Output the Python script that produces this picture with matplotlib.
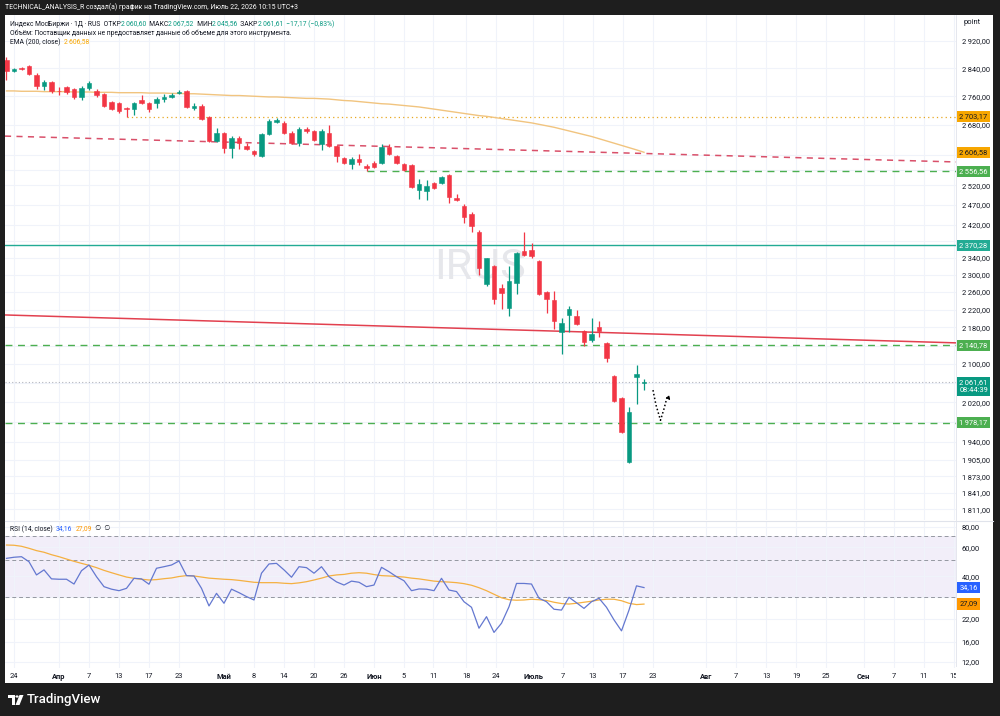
import matplotlib
matplotlib.use("Agg")
import matplotlib.pyplot as plt
import matplotlib.transforms as mtransforms
from matplotlib.patches import Rectangle, Circle, Polygon
from matplotlib.ticker import NullLocator, NullFormatter
import numpy as np

plt.rcParams['font.family'] = ['Roboto', 'DejaVu Sans']

W, H = 1000, 716

# daily candles, first one = 23 Mar, last one = 22 Jul
opens = [2864, 2832, 2840, 2846, 2820, 2789, 2800, 2775, 2786, 2780,
         2758, 2783, 2775, 2766, 2744, 2741, 2727, 2724, 2749, 2741,
         2741, 2752, 2758, 2769, 2775, 2727, 2733, 2702, 2637, 2658,
         2618, 2645, 2623, 2610, 2597, 2656, 2688, 2686, 2658, 2631,
         2669, 2664, 2629, 2658, 2623, 2591, 2576, 2589, 2570, 2578,
         2578, 2621, 2597, 2576, 2573, 2508, 2506, 2526, 2526, 2547,
         2488, 2468, 2448, 2402, 2279, 2322, 2269, 2223, 2281, 2358,
         2360, 2334, 2260, 2242, 2170, 2208, 2205, 2172, 2152, 2181,
         2145, 2074, 2028, 1900, 2073, 2060.60]
highs = [2873, 2841, 2843, 2849, 2826, 2806, 2803, 2786, 2789, 2783,
         2789, 2803, 2780, 2769, 2747, 2744, 2730, 2744, 2764, 2744,
         2758, 2766, 2769, 2778, 2778, 2741, 2738, 2705, 2672, 2661,
         2650, 2650, 2631, 2613, 2658, 2697, 2699, 2691, 2664, 2675,
         2675, 2667, 2669, 2680, 2626, 2594, 2594, 2602, 2576, 2584,
         2629, 2629, 2599, 2578, 2576, 2537, 2534, 2529, 2544, 2550,
         2498, 2473, 2453, 2407, 2341, 2324, 2279, 2322, 2355, 2402,
         2375, 2336, 2263, 2263, 2201, 2228, 2219, 2174, 2201, 2194,
         2148, 2076, 2030, 2010, 2098, 2067.52]
lows = [2806, 2829, 2834, 2820, 2780, 2778, 2769, 2764, 2766, 2752,
        2749, 2778, 2758, 2730, 2722, 2713, 2702, 2708, 2738, 2716,
        2727, 2744, 2755, 2766, 2727, 2722, 2694, 2634, 2634, 2605,
        2591, 2616, 2613, 2597, 2594, 2653, 2686, 2656, 2629, 2623,
        2658, 2637, 2613, 2621, 2581, 2576, 2563, 2573, 2557, 2565,
        2576, 2599, 2576, 2557, 2514, 2485, 2483, 2511, 2524, 2475,
        2480, 2426, 2402, 2300, 2274, 2232, 2221, 2205, 2256, 2344,
        2339, 2254, 2212, 2176, 2121, 2170, 2185, 2139, 2148, 2159,
        2104, 2020, 1957, 1898, 2016, 2045.56]
closes = [2832, 2838, 2837, 2823, 2789, 2800, 2775, 2774, 2772, 2758,
          2783, 2798, 2764, 2733, 2724, 2719, 2724, 2741, 2741, 2724,
          2752, 2758, 2764, 2772, 2730, 2733, 2697, 2637, 2658, 2618,
          2645, 2631, 2615, 2602, 2656, 2691, 2694, 2658, 2631, 2669,
          2664, 2640, 2664, 2623, 2597, 2578, 2589, 2581, 2565, 2568,
          2621, 2602, 2578, 2560, 2516, 2524, 2519, 2514, 2542, 2490,
          2483, 2440, 2418, 2317, 2339, 2244, 2258, 2285, 2351, 2348,
          2344, 2256, 2244, 2194, 2190, 2221, 2187, 2148, 2165, 2172,
          2113, 2022, 1959, 2000, 2078.78, 2061.61]
ema200 = [2775, 2775, 2774, 2774, 2774, 2773, 2773, 2773, 2773, 2772,
          2772, 2772, 2771, 2771, 2771, 2770, 2770, 2770, 2770, 2769,
          2769, 2769, 2768, 2768, 2767, 2767, 2766, 2765, 2764, 2763,
          2762, 2762, 2761, 2760, 2759, 2758, 2758, 2757, 2756, 2755,
          2754, 2754, 2753, 2752, 2750, 2748, 2747, 2745, 2743, 2741,
          2739, 2738, 2736, 2734, 2732, 2730, 2727, 2724, 2721, 2718,
          2715, 2712, 2709, 2706, 2704, 2701, 2698, 2695, 2692, 2689,
          2686, 2682, 2678, 2674, 2669, 2664, 2659, 2654, 2649, 2643,
          2637, 2631, 2625, 2619, 2613, 2606.58]
rsi = [51.5, 52.3, 52.7, 49.1, 40.8, 43.8, 38.6, 38.4, 38.4, 35.9,
       43.3, 46.9, 39.8, 34.6, 33.4, 32.7, 33.8, 38.9, 38.6, 35.8,
       44.8, 45.8, 46.9, 49.6, 40.4, 40.2, 33.8, 26.4, 31.5, 27.4,
       33.4, 31.8, 30.1, 28.7, 41.8, 47.6, 48.0, 43.8, 39.5, 45.8,
       45.2, 41.8, 45.8, 39.8, 37.0, 35.4, 37.4, 36.8, 34.6, 35.4,
       45.4, 42.7, 39.8, 37.6, 32.7, 33.5, 33.4, 32.7, 38.9, 33.0,
       32.3, 28.0, 25.9, 19.3, 22.7, 18.2, 20.7, 26.1, 36.2, 36.2,
       35.9, 29.4, 28.0, 25.2, 24.9, 29.8, 27.6, 25.5, 28.0, 29.4,
       25.9, 21.7, 18.6, 24.9, 35.0, 34.16]
rsi_ma = [62.1, 61.9, 61.0, 59.3, 57.4, 56.1, 54.2, 52.7, 51.0, 49.4,
          48.0, 46.7, 45.2, 43.5, 42.1, 40.8, 39.6, 38.9, 38.4, 38.0,
          38.2, 38.7, 39.1, 39.9, 40.4, 40.2, 39.6, 39.0, 38.7, 38.4,
          38.2, 37.8, 37.3, 36.8, 36.6, 36.6, 36.6, 36.3, 36.1, 36.5,
          37.1, 38.0, 39.0, 40.2, 40.8, 41.1, 41.8, 42.1, 41.8, 41.0,
          40.4, 40.2, 39.9, 39.6, 39.0, 38.6, 38.0, 37.4, 37.1, 36.9,
          36.6, 36.1, 35.3, 34.1, 32.7, 31.1, 29.6, 28.8, 28.6, 28.7,
          29.0, 28.8, 28.5, 27.8, 27.3, 27.1, 27.4, 27.8, 28.2, 28.7,
          29.0, 29.0, 28.4, 27.4, 26.9, 27.09]

# bar index 0 = 24 Mar
x_tick_pos = [0, 6, 10, 14, 18, 22, 28, 32, 36, 40, 44, 48, 52, 55.9, 60.3, 64.3,
              69.2, 73.2, 77.2, 81.2, 85.2, 92.3, 96.3, 100.3, 104.3, 108.3,
              113.3, 117.3, 121.3, 125.3]
x_tick_labels = ['24', 'Апр', '7', '13', '17', '23', 'Май', '8', '14', '20', '26',
                 'Июн', '5', '11', '18', '24', 'Июль', '7', '13', '17', '23',
                 'Авг', '7', '13', '19', '25', 'Сен', '7', '11', '15']
month_labels = ['Апр', 'Май', 'Июн', 'Июль', 'Авг', 'Сен']

price_ticks = [2920, 2840, 2760, 2680, 2600, 2560, 2520, 2470, 2420, 2380, 2340,
               2300, 2260, 2220, 2180, 2140, 2100, 2060, 2020, 1980, 1940, 1905,
               1873, 1841, 1811]
hidden_price_ticks = [2600, 2560, 2140, 2060, 1980]
rsi_ticks = [80, 60, 40, 30, 22, 16, 12]
hidden_rsi_ticks = [30]

# drawn levels / trend lines
level_ema_low = 2703.17
level_green_1 = 2556.56
level_teal = 2370.28
level_green_2 = 2140.78
level_green_3 = 1978.17
last_price = 2061.61
red_dash_x = [-1.2, 125.6]
red_dash_y = [2650, 2581]
red_line_x = [-1.2, 125.6]
red_line_y = [2208, 2146]
arrow_x = [85.2, 85.6, 86.2, 86.7, 87.1]
arrow_y = [2045, 2014, 1983, 2008, 2032]

UP, DOWN = '#089981', '#f23645'
GREEN = '#4caf50'
TEAL = '#22ab94'
ORANGE = '#f7a600'
TXT = '#131722'
GRID = '#f0f3fa'
FS = 5.4
LFS = 4.9


def fmt(v):
    return f"{v:,.2f}".replace(',', '\u2009').replace('.', ',')


fig = plt.figure(figsize=(W / 100, H / 100), dpi=100, facecolor='#1e1e1e')
fig.patches.append(Rectangle((5 / W, 1 - 683 / H), 988 / W, 668 / H, transform=fig.transFigure,
                             facecolor='white', edgecolor='none', zorder=-5))

ax = fig.add_axes([5 / W, 1 - 520 / H, 951 / W, 505 / H])
ax2 = fig.add_axes([5 / W, 1 - 668 / H, 951 / W, 146 / H])

idx = np.arange(len(closes)) - 1
o = np.array(opens, float)
c = np.array(closes, float)
cols = [UP if cc >= oo else DOWN for oo, cc in zip(o, c)]

for a in (ax, ax2):
    a.set_yscale('log')
    a.set_xlim(-1.2, 125.6)
    a.yaxis.tick_right()
    a.yaxis.set_minor_locator(NullLocator())
    a.yaxis.set_minor_formatter(NullFormatter())
    a.set_xticks(x_tick_pos)
    a.grid(True, color=GRID, lw=0.8, zorder=0)
    a.set_axisbelow(True)
    for s in a.spines.values():
        s.set_visible(False)
    a.spines['right'].set_visible(True)
    a.spines['right'].set_color('#e0e3eb')
    a.spines['right'].set_linewidth(0.6)
    a.tick_params(axis='y', length=0, pad=4, labelsize=FS, labelcolor=TXT)

ax.set_ylim(1791.2, 2998.5)
ax.set_yticks(price_ticks)
ax.set_yticklabels(['' if v in hidden_price_ticks else fmt(v) for v in price_ticks])
ax.tick_params(axis='x', length=0, labelbottom=False)

# watermark
ax.text(0.4995, 0.5, 'IRUS', transform=ax.transAxes, ha='center', va='center',
        fontsize=31, color='#e6e7eb', zorder=1)

# candles
ax.vlines(idx, lows, highs, colors=cols, lw=0.9, zorder=4)
ax.bar(idx, np.abs(c - o), bottom=np.minimum(o, c), width=0.64, color=cols,
       edgecolor=cols, lw=0.4, zorder=5)

# EMA 200
ax.plot(idx, ema200, color='#f1c47f', lw=1.0, zorder=3)

# levels
ax.hlines(level_ema_low, 15, 125.6, colors='#e8a820', lw=0.9, linestyles=(0, (1, 2.5)), zorder=2)
ax.plot(red_dash_x, red_dash_y, color='#d9506a', lw=1.1, ls=(0, (4, 3.5)), zorder=2)
ax.hlines(level_green_1, 47, 125.6, colors=GREEN, lw=1.0, linestyles=(0, (5, 4)), zorder=2)
ax.axhline(level_teal, color=TEAL, lw=1.0, zorder=2)
ax.plot(red_line_x, red_line_y, color='#e2404f', lw=1.1, zorder=2)
ax.axhline(level_green_2, color=GREEN, lw=1.0, ls=(0, (5, 4)), zorder=2)
ax.axhline(level_green_3, color=GREEN, lw=1.0, ls=(0, (5, 4)), zorder=2)
ax.axhline(last_price, color='#b2b5be', lw=0.8, ls=(0, (1, 2)), zorder=2)

# dotted arrow drawing
ax.plot(arrow_x, arrow_y, color='black', lw=1.1, ls=(0, (1, 1.5)), zorder=6)
ax.annotate('', xy=(arrow_x[-1] + 0.4, arrow_y[-1] - 8), xytext=(arrow_x[-1], arrow_y[-1]),
            arrowprops=dict(arrowstyle='-|>', color='black', lw=0.8, mutation_scale=5), zorder=6)

# price scale badges
tr = mtransforms.blended_transform_factory(ax.transAxes, ax.transData)
tr2 = mtransforms.blended_transform_factory(ax2.transAxes, ax2.transData)


def badge(trans, y, text, bg, fg='white', dy=0):
    t = mtransforms.offset_copy(trans, fig=fig, y=dy, units='dots')
    ax.text(1.0035, y, text, transform=t, ha='left', va='center', fontsize=FS, color=fg,
            linespacing=1.05, clip_on=False, zorder=20,
            bbox=dict(boxstyle='square,pad=0.3', fc=bg, ec='none'))


badge(tr, level_ema_low, fmt(level_ema_low), ORANGE, TXT)
badge(tr, ema200[-1], fmt(ema200[-1]), ORANGE, TXT)
badge(tr, level_green_1, fmt(level_green_1), GREEN)
badge(tr, level_teal, fmt(level_teal), TEAL)
badge(tr, level_green_2, fmt(level_green_2), GREEN)
badge(tr, last_price, fmt(last_price) + '\n08:44:39', UP, dy=-4.5)
badge(tr, level_green_3, fmt(level_green_3), GREEN)
badge(tr2, rsi[-1], fmt(rsi[-1]), '#2962ff')
badge(tr2, rsi_ma[-1], fmt(rsi_ma[-1]), '#ff9800', TXT)

# RSI pane
ax2.set_ylim(11.04, 85.8)
ax2.set_yticks(rsi_ticks)
ax2.set_yticklabels(['' if v in hidden_rsi_ticks else fmt(v) for v in rsi_ticks])
ax2.axhspan(30, 70, color='#f2eef9', zorder=0.5, lw=0)
for lv in (70, 50, 30):
    ax2.axhline(lv, color='#9598a1', lw=0.7, ls=(0, (4, 3)), zorder=1)
ax2.plot(idx, rsi_ma, color='#f5b041', lw=0.9, zorder=3)
ax2.plot(idx, rsi, color='#6478d0', lw=0.9, zorder=4)
ax2.set_xticklabels(x_tick_labels)
ax2.tick_params(axis='x', length=0, pad=3.5, labelsize=FS, labelcolor=TXT)
for lbl in ax2.get_xticklabels():
    if lbl.get_text() in month_labels:
        lbl.set_fontweight('bold')

# pane separator and clipped tail of the time scale
fig.add_artist(plt.Line2D([5 / W, 993 / W], [1 - 521 / H, 1 - 521 / H], color='#e0e3eb', lw=0.8))
fig.patches.append(Rectangle((956 / W, 1 - 683 / H), 37 / W, 16 / H, transform=fig.transFigure,
                             facecolor='white', edgecolor='none', zorder=5))
fig.text(963 / W, 1 - 22 / H, 'point', fontsize=FS, color=TXT, va='center', ha='left')

r = fig.canvas.get_renderer()


def chain(x, y, parts, size, weight='normal'):
    for s, col in parts:
        t = fig.text(x / W, 1 - y / H, s, color=col, fontsize=size, ha='left', va='center',
                     fontweight=weight)
        x += t.get_window_extent(r).width


fig.text(5 / W, 1 - 7 / H, 'TECHNICAL_ANALYSIS_R создал(а) график на TradingView.com, Июль 22, 2026 10:15 UTC+3',
         color='white', fontsize=4.95, ha='left', va='center')
chain(10, 24, [('Индекс МосБиржи · 1Д · RUS  ОТКР', TXT), (fmt(opens[-1]), UP), ('  МАКС', TXT),
               (fmt(highs[-1]), UP), ('  МИН', TXT), (fmt(lows[-1]), UP), ('  ЗАКР', TXT),
               (fmt(closes[-1]), UP), ('  −17,17 (−0,83%)', UP)], LFS)
chain(10, 33, [('Объём: Поставщик данных не предоставляет данные об объеме для этого инструмента.', TXT)], LFS)
chain(10, 42, [('EMA (200, close)  ', TXT), (fmt(ema200[-1]), ORANGE)], LFS)
chain(10, 529, [('RSI (14, close)  ', TXT), (fmt(rsi[-1]), '#2962ff'), ('  ', TXT),
                (fmt(rsi_ma[-1]), '#ff9800'), ('  \u2205  \u2205', TXT)], LFS)

# TradingView logo
fig.patches.append(Rectangle((8 / W, 1 - 698 / H), 7 / W, 3 / H, transform=fig.transFigure, fc='white', ec='none'))
fig.patches.append(Rectangle((11.5 / W, 1 - 705 / H), 3.5 / W, 8 / H, transform=fig.transFigure, fc='white', ec='none'))
fig.patches.append(Circle((17 / W, 1 - 696.5 / H), 1.6 / W, transform=fig.transFigure, fc='white', ec='none'))
fig.patches.append(Polygon([(19.5 / W, 1 - 695 / H), (23.5 / W, 1 - 695 / H), (19.5 / W, 1 - 705 / H),
                            (15.5 / W, 1 - 705 / H)], closed=True, transform=fig.transFigure,
                           fc='white', ec='none'))
fig.text(27 / W, 1 - 700 / H, 'TradingView', color='white', fontsize=9.5, fontweight='medium',
         ha='left', va='center')

fig.savefig('out.png', dpi=100, facecolor=fig.get_facecolor())
